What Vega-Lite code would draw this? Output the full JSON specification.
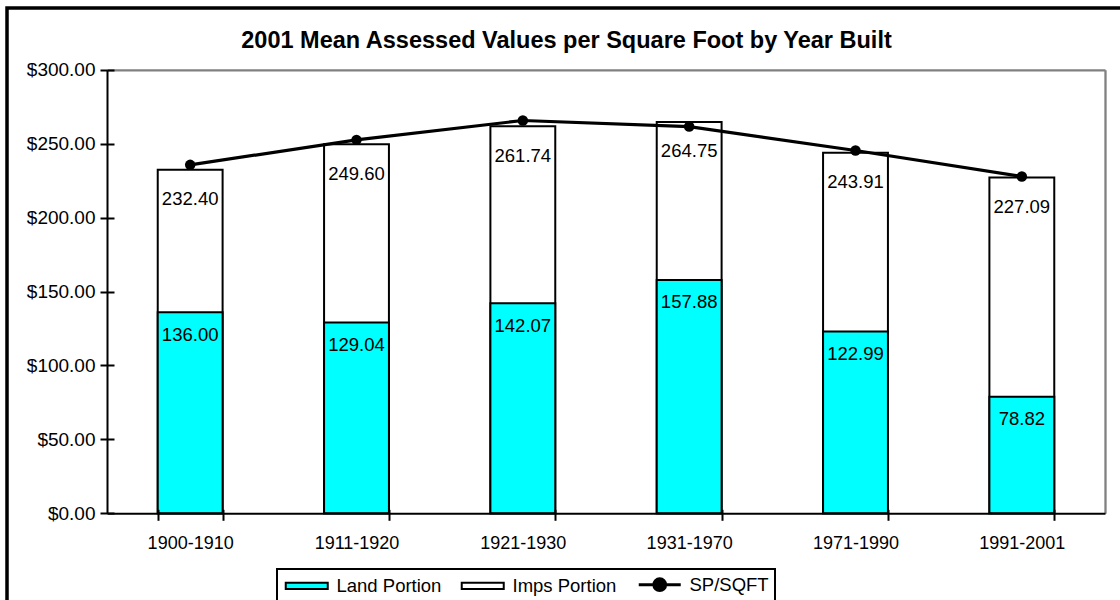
{
  "$schema": "https://vega.github.io/schema/vega-lite/v6.json",
  "width": 1113,
  "height": 592,
  "autosize": {"type": "none"},
  "padding": {"left": 7, "top": 8, "right": 0, "bottom": 0},
  "background": "white",
  "config": {
    "font": "Liberation Sans",
    "view": {"stroke": "black", "strokeWidth": 3.5, "strokeDash": [1113, 1705, 592, 1], "strokeCap": "square"},
    "legend": {"strokeWidth": 2}
  },
  "title": {
    "text": "2001 Mean Assessed Values per Square Foot by Year Built",
    "fontSize": 23.5,
    "fontWeight": "bold",
    "color": "black",
    "anchor": "middle",
    "offset": -44,
    "dx": 3
  },
  "data": {
    "values": [
      {"period": "1900-1910", "land": 136.00, "total": 232.40, "sp": 235.7},
      {"period": "1911-1920", "land": 129.04, "total": 249.60, "sp": 252.6},
      {"period": "1921-1930", "land": 142.07, "total": 261.74, "sp": 265.7},
      {"period": "1931-1970", "land": 157.88, "total": 264.75, "sp": 261.6},
      {"period": "1971-1990", "land": 122.99, "total": 243.91, "sp": 245.4},
      {"period": "1991-2001", "land": 78.82, "total": 227.09, "sp": 227.8}
    ]
  },
  "layer": [
    {
      "mark": {"type": "bar", "stroke": "black", "strokeWidth": 2},
      "encoding": {
        "x": {
          "field": "period", "type": "nominal", "sort": null,
          "scale": {"range": [100, 1098], "paddingInner": 0.61, "paddingOuter": 0.305},
          "axis": {
            "orient": "bottom", "offset": -86.7, "title": null, "tickBand": "extent",
            "tickSize": 7, "tickWidth": 2, "tickColor": "black",
            "domainColor": "black", "domainWidth": 2,
            "labelFontSize": 18, "labelColor": "black", "labelPadding": 14, "labelAngle": 0, "zindex": 1
          }
        },
        "y": {
          "field": "total", "type": "quantitative",
          "scale": {"domain": [0, 300], "range": [505.3, 61.8], "nice": false, "zero": true},
          "axis": {
            "orient": "left", "offset": -100, "title": null,
            "values": [0, 50, 100, 150, 200, 250, 300], "format": "$,.2f", "grid": false,
            "tickSize": 7, "tickWidth": 2, "tickColor": "black",
            "domainColor": "black", "domainWidth": 2,
            "labelFontSize": 19, "labelColor": "black", "labelPadding": 5, "zindex": 1
          }
        },
        "fill": {
          "datum": "Imps Portion",
          "scale": {"domain": ["Land Portion", "Imps Portion", "SP/SQFT"], "range": ["#00FFFF", "#FFFFFF", "#000000"]},
          "legend": {
            "orient": "none", "legendX": 270, "legendY": 561, "direction": "horizontal",
            "title": null, "strokeColor": "black", "padding": 6,
            "labelFontSize": 18.5, "labelColor": "black", "labelOffset": 35, "columnPadding": 15,
            "symbolSize": 1764, "symbolStrokeColor": "black", "symbolStrokeWidth": 2,
            "encode": {
              "symbols": {
                "update": {
                  "shape": {"signal": "datum.value === 'SP/SQFT' ? 'M-0.31,0H1.69M0.97,0A0.28,0.28 0 1 1 0.41,0A0.28,0.28 0 1 1 0.97,0Z' : 'M-0.31,-0.15H1.69V0.15H-0.31Z'"},
                  "stroke": {"value": "black"},
                  "strokeWidth": {"signal": "datum.value === 'SP/SQFT' ? 3 : 2"}
                }
              }
            }
          }
        }
      }
    },
    {
      "mark": {"type": "bar", "stroke": "black", "strokeWidth": 2},
      "encoding": {
        "x": {
          "field": "period", "type": "nominal", "sort": null,
          "axis": {
            "orient": "top", "offset": -505.3, "title": null, "tickBand": "extent",
            "tickSize": 4, "tickWidth": 2, "tickColor": "black",
            "domain": false, "labels": false, "zindex": 1
          }
        },
        "y": {
          "field": "land", "type": "quantitative",
          "axis": {
            "orient": "right", "offset": -1013, "title": null,
            "values": [0, 50, 100, 150, 200, 250, 300], "grid": false,
            "tickSize": 7, "tickWidth": 2, "tickColor": "black",
            "domain": false, "labels": false, "zindex": 1
          }
        },
        "fill": {"datum": "Land Portion"}
      }
    },
    {
      "mark": {"type": "text", "baseline": "middle", "align": "center", "dy": 29.5, "fontSize": 18.5, "color": "black"},
      "encoding": {
        "x": {"field": "period", "type": "nominal", "sort": null, "axis": null},
        "y": {"field": "total", "type": "quantitative", "axis": null},
        "text": {"field": "total", "type": "quantitative", "format": ".2f"}
      }
    },
    {
      "mark": {"type": "text", "baseline": "middle", "align": "center", "dy": 22.5, "fontSize": 18.5, "color": "black"},
      "encoding": {
        "x": {"field": "period", "type": "nominal", "sort": null, "axis": null},
        "y": {"field": "land", "type": "quantitative", "axis": null},
        "text": {"field": "land", "type": "quantitative", "format": ".2f"}
      }
    },
    {
      "mark": {"type": "line", "color": "black", "strokeWidth": 3.2},
      "encoding": {
        "x": {
          "field": "period", "type": "nominal", "sort": null,
          "axis": {"orient": "top", "offset": -61.8, "title": null, "ticks": false, "labels": false, "domainColor": "#808080", "domainWidth": 2.3}
        },
        "y": {
          "field": "sp", "type": "quantitative",
          "axis": {"orient": "right", "offset": -15, "title": null, "ticks": false, "labels": false, "grid": false, "domainColor": "#808080", "domainWidth": 2.3}
        }
      }
    },
    {
      "mark": {"type": "point", "filled": true, "shape": "circle", "size": 110, "color": "black", "opacity": 1},
      "encoding": {
        "x": {"field": "period", "type": "nominal", "sort": null, "axis": null},
        "y": {"field": "sp", "type": "quantitative", "axis": null}
      }
    }
  ],
  "resolve": {
    "scale": {"x": "shared", "y": "shared", "fill": "shared"},
    "axis": {"x": "independent", "y": "independent"}
  }
}
